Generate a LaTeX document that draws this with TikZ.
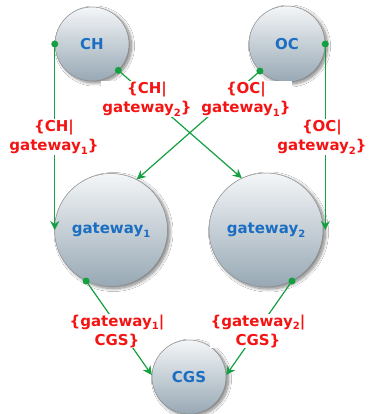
\documentclass[tikz,border=0pt]{standalone}
\usepackage{fontspec}
\setmainfont{DejaVu Sans}
\usetikzlibrary{arrows.meta,shadows.blur}
\definecolor{lblred}{HTML}{F51414}
\definecolor{nodeblue}{HTML}{1B6EC2}
\definecolor{edgegreen}{HTML}{14A040}
\definecolor{ctop}{HTML}{F4F6F8}
\definecolor{cbot}{HTML}{97A8B4}
\newcommand{\sbx}[1]{\raisebox{-0.45ex}{\fontsize{10}{10}\selectfont #1}}
\tikzset{
  ball/.style={circle, draw=black!45, line width=0.5pt, top color=ctop, bottom color=cbot,
    inner sep=0pt, text=nodeblue, font=\fontsize{15}{19}\selectfont\bfseries,
    blur shadow={shadow blur steps=14, shadow xshift=2.5pt, shadow yshift=-2pt, shadow blur radius=3pt, shadow opacity=50}},
  lbl/.style={fill=white, text=lblred, align=center, inner sep=1pt,
    font=\fontsize{15}{19}\selectfont\bfseries},
  conn/.style={draw=edgegreen, line width=1.2pt, -{Stealth[length=9pt,width=9pt,inset=3pt]}},
  dot/.style={fill=edgegreen}
}
\begin{document}
\begin{tikzpicture}[x=1pt,y=-1pt]
\useasboundingbox (0,0) rectangle (370,414);
\fill[white] (0,0) rectangle (370,414);
% nodes
\node[ball, minimum size=74pt] (CH) at (92,44) {CH};
\node[ball, minimum size=76pt] (OC) at (287,44) {OC};
\node[ball, minimum size=113pt] (G1) at (111,230) {gateway\sbx{1}};
\node[ball, minimum size=114pt] (G2) at (266,230) {gateway\sbx{2}};
\node[ball, minimum size=74pt] (CGS) at (189,377) {CGS};
% connectors
\draw[conn] (CH.west) -- (CH.west |- G1.center);
\draw[conn] (OC.east) -- (OC.east |- G2.center);
\draw[conn] (CH.-45) -- (G2.115);
\draw[conn] (OC.-135) -- (G1.63);
\draw[conn] (G1.-116) -- (CGS.177);
\draw[conn] (G2.-63) -- (CGS.3);
\fill[dot] (CH.west) circle (3.5pt);
\fill[dot] (OC.east) circle (3.5pt);
\fill[dot] (CH.-45) circle (3.5pt);
\fill[dot] (OC.-135) circle (3.5pt);
\fill[dot] (G1.-116) circle (3.5pt);
\fill[dot] (G2.-63) circle (3.5pt);
% labels
\node[lbl] (l1) at (54,137) {\{CH|\\gateway\sbx{1}\}};
\node[lbl] (l2) at (322,137) {\{OC|\\gateway\sbx{2}\}};
\node[lbl] (l3) at (147,99) {\{CH|\\gateway\sbx{2}\}};
\node[lbl] (l4) at (246,99) {\{OC|\\gateway\sbx{1}\}};
\node[lbl] (l5) at (117,331) {\{gateway\sbx{1}|\\CGS\}};
\node[lbl] (l6) at (258,331) {\{gateway\sbx{2}|\\CGS\}};
\end{tikzpicture}
\end{document}
